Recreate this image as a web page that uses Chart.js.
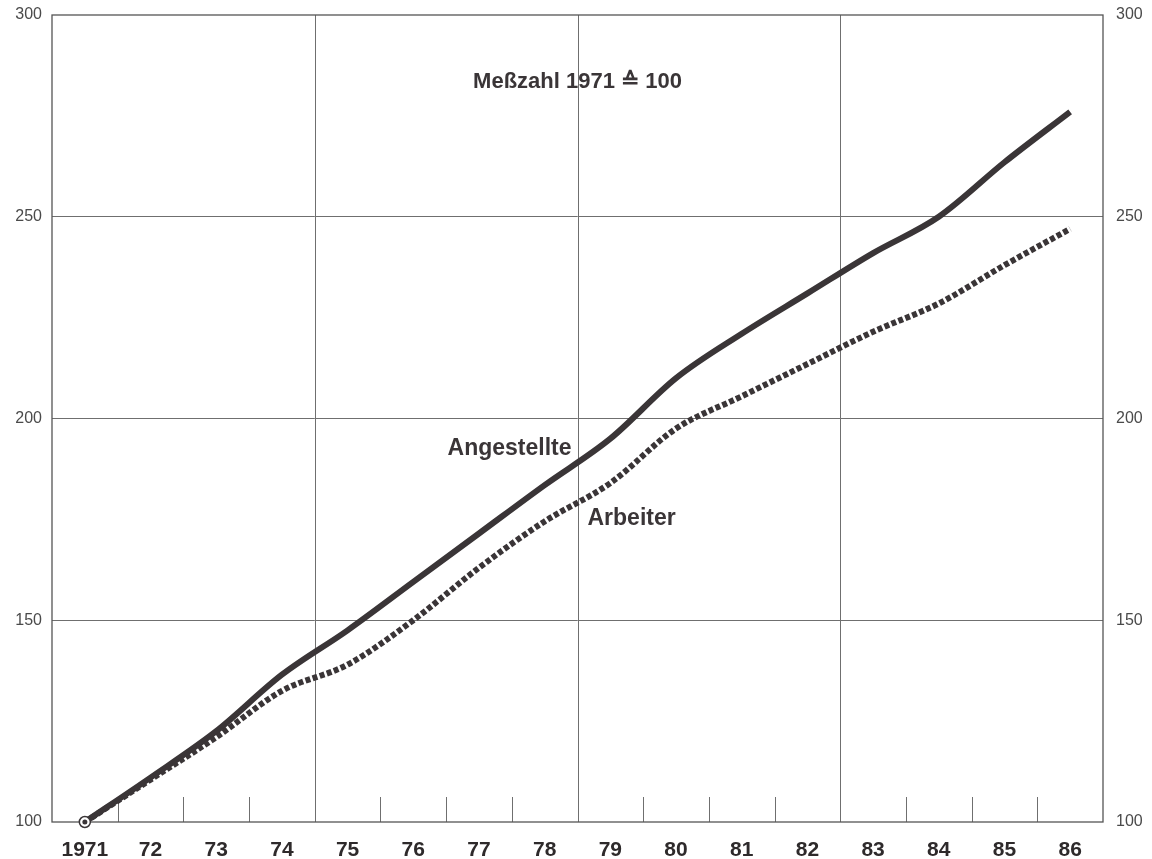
<!DOCTYPE html>
<html>
<head>
<meta charset="utf-8">
<title>Meßzahl 1971 = 100</title>
<script src="https://cdn.jsdelivr.net/npm/chart.js@4/dist/chart.umd.min.js"></script>
<style>
  body { margin: 0; background: #fff; }
  #wrap { width: 1152px; height: 859px; }
</style>
</head>
<body>
<div id="wrap"><canvas id="chart"></canvas></div>
<script>
// values (index 1971 = 100)
const years = ['1971', '72', '73', '74', '75', '76', '77', '78', '79', '80', '81', '82', '83', '84', '85', '86'];
const angestellte = [100, 111, 122.5, 136.5, 147.5, 159.5, 171.5, 183.5, 195, 210, 221, 231, 241, 250, 263.5, 276];
const arbeiter = [100, 110.5, 121, 132.5, 139, 150, 163, 174.5, 184, 197.5, 205.5, 213.5, 221.5, 228.5, 238, 247];
const yMin = 100, yMax = 300, yStep = 50;

const ink = '#3a3537';
const gridCol = '#6f6f6f';
const fontFam = '"Liberation Sans", Arial, Helvetica, sans-serif';

// fixed axis sizes so the plot frame sits where it does in the print
function fixBox(w, h) {
  return s => {
    if (w != null) s.width = w;
    if (h != null) s.height = h;
    s.paddingTop = 0;
    s.paddingBottom = 0;
    s.paddingLeft = 0;
    s.paddingRight = 0;
  };
}

// frame, long gridlines every 4 years, short ticks in between
const framePlugin = {
  id: 'frame',
  beforeDatasetsDraw(chart) {
    const { ctx, chartArea: a, scales } = chart;
    const x = scales.x;
    ctx.save();
    ctx.strokeStyle = gridCol;
    ctx.lineWidth = 1;
    for (let i = 1; i < years.length; i++) {
      const px = Math.round((x.getPixelForValue(i - 1) + x.getPixelForValue(i)) / 2) + 0.5;
      ctx.beginPath();
      ctx.moveTo(px, a.bottom);
      ctx.lineTo(px, i % 4 === 0 ? a.top : a.bottom - 25);
      ctx.stroke();
    }
    ctx.strokeStyle = '#555';
    ctx.lineWidth = 1.3;
    ctx.strokeRect(a.left, a.top, a.right - a.left, a.bottom - a.top);
    ctx.restore();
  }
};

// texts in the chart, placed through the scales
const notesPlugin = {
  id: 'notes',
  afterDatasetsDraw(chart) {
    const { ctx, scales } = chart;
    const x = scales.x, y = scales.y;
    const mid = (x.getPixelForValue(7) + x.getPixelForValue(8)) / 2;
    ctx.save();
    ctx.fillStyle = ink;
    ctx.font = 'bold 22px ' + fontFam;
    ctx.textBaseline = 'alphabetic';
    ctx.textAlign = 'center';
    ctx.fillText('Meßzahl 1971 \u2259 100', mid, y.getPixelForValue(282));
    ctx.font = 'bold 23px ' + fontFam;
    ctx.textAlign = 'right';
    ctx.fillText('Angestellte', mid - 6, y.getPixelForValue(191));
    ctx.textAlign = 'left';
    ctx.fillText('Arbeiter', mid + 10, y.getPixelForValue(173.6));
    // ring-and-dot marker at the base point
    const bx = x.getPixelForValue(0), by = y.getPixelForValue(angestellte[0]);
    ctx.beginPath();
    ctx.arc(bx, by, 5.5, 0, Math.PI * 2);
    ctx.fillStyle = '#fff';
    ctx.fill();
    ctx.lineWidth = 1.5;
    ctx.strokeStyle = ink;
    ctx.stroke();
    ctx.beginPath();
    ctx.arc(bx, by, 2.5, 0, Math.PI * 2);
    ctx.fillStyle = ink;
    ctx.fill();
    ctx.restore();
  }
};

new Chart(document.getElementById('chart'), {
  type: 'line',
  data: {
    labels: years,
    datasets: [
      {
        label: 'Arbeiter',
        data: arbeiter,
        borderColor: ink,
        borderWidth: 6,
        borderDash: [5, 2.5],
        borderCapStyle: 'butt',
        cubicInterpolationMode: 'monotone',
        pointRadius: 0,
        clip: false,
        yAxisID: 'y'
      },
      {
        label: 'Angestellte',
        data: angestellte,
        borderColor: ink,
        borderWidth: 6,
        cubicInterpolationMode: 'monotone',
        pointRadius: 0,
        clip: false,
        yAxisID: 'y'
      }
    ]
  },
  options: {
    responsive: true,
    maintainAspectRatio: false,
    animation: false,
    layout: { padding: { top: 15, left: 0, right: 0, bottom: 0 } },
    plugins: {
      legend: { display: false },
      tooltip: { enabled: false }
    },
    scales: {
      x: {
        type: 'category',
        offset: true,
        grid: { display: false },
        border: { display: false },
        ticks: {
          color: '#2e2a2b',
          font: { family: fontFam, size: 21, weight: 'bold' },
          padding: 8,
          maxRotation: 0,
          autoSkip: false
        },
        afterFit: fixBox(null, 37)
      },
      y: {
        position: 'left',
        min: yMin, max: yMax,
        grid: {
          color: c => (c.tick.value > yMin && c.tick.value < yMax) ? gridCol : 'rgba(0,0,0,0)',
          lineWidth: 1,
          drawTicks: false
        },
        border: { display: false },
        ticks: {
          stepSize: yStep,
          color: '#4a4a4a',
          font: { family: fontFam, size: 16 },
          padding: 10
        },
        afterFit: fixBox(52, null)
      },
      y2: {
        position: 'right',
        min: yMin, max: yMax,
        grid: { display: false, drawTicks: false },
        border: { display: false },
        ticks: {
          stepSize: yStep,
          color: '#4a4a4a',
          font: { family: fontFam, size: 16 },
          padding: 13
        },
        afterFit: fixBox(49, null)
      }
    }
  },
  plugins: [framePlugin, notesPlugin]
});
</script>
</body>
</html>
